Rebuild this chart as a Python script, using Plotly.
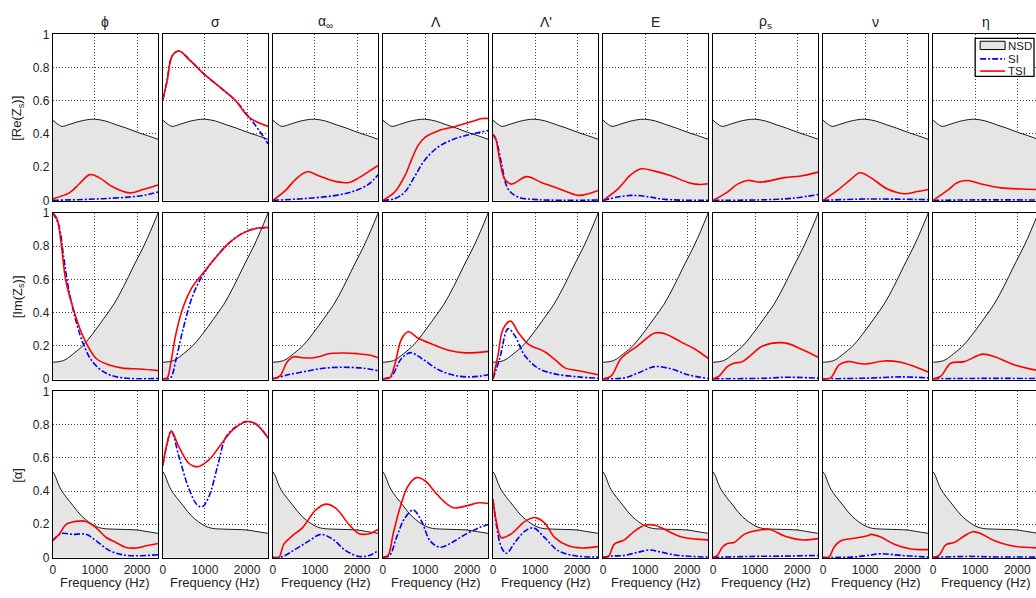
import plotly.graph_objects as go

# ---------------- data (frequency in Hz, normalised value) ----------------
params = ["ϕ", "σ", "α<sub>∞</sub>", "Λ", "Λ'", "E", "ρ<sub>s</sub>", "ν", "η"]
row_labels = ["[Re(Z<sub>s</sub>)]", "[Im(Z<sub>s</sub>)]", "[α]"]
legend_names = ["NSD", "SI", "TSI"]
x_ticks = [0, 1000, 2000]
y_ticks = [0, 0.2, 0.4, 0.6, 0.8, 1]
y_tick_text = ["0", "0.2", "0.4", "0.6", "0.8", "1"]

# NSD envelopes (identical across columns of a row)
re_nsd = [(0, 0.483), (100, 0.462), (215, 0.446), (400, 0.458), (600, 0.474), (800, 0.485), (990, 0.489),
          (1250, 0.478), (1500, 0.456), (1750, 0.435), (2000, 0.411), (2250, 0.39), (2500, 0.368)]
im_nsd = [(0, 0.1), (250, 0.11), (490, 0.152), (730, 0.205), (1000, 0.29), (1200, 0.36), (1450, 0.45),
          (1680, 0.556), (1920, 0.68), (2160, 0.8), (2320, 0.89), (2500, 1.0)]
al_nsd = [(0, 0.515), (40, 0.5), (190, 0.41), (470, 0.315), (700, 0.245), (1000, 0.19), (1180, 0.175),
          (1500, 0.17), (2000, 0.165), (2250, 0.155), (2500, 0.145)]

# Row 1 : Re(Zs)
re_phi_tsi = [(0, 0.01), (390, 0.045), (630, 0.1), (880, 0.155), (1100, 0.137), (1430, 0.08), (1820, 0.045), (2140, 0.065), (2500, 0.092)]
re_phi_si = [(0, 0), (600, 0.004), (1190, 0.01), (1820, 0.02), (2200, 0.032), (2500, 0.05)]
re_sig_tsi = [(0, 0.607), (100, 0.72), (220, 0.87), (380, 0.9), (620, 0.85), (940, 0.77), (1340, 0.685), (1730, 0.6), (2050, 0.5), (2500, 0.445)]
re_sig_si = [(0, 0.607), (100, 0.72), (220, 0.87), (380, 0.9), (620, 0.85), (940, 0.77), (1340, 0.685), (1730, 0.6), (2050, 0.5), (2290, 0.42), (2500, 0.34)]
re_alp_tsi = [(0, 0), (300, 0.06), (540, 0.127), (820, 0.172), (1100, 0.147), (1500, 0.113), (1815, 0.108), (2050, 0.137), (2290, 0.176), (2500, 0.21)]
re_alp_si = [(0, 0), (700, 0.01), (1500, 0.03), (1975, 0.06), (2290, 0.1), (2500, 0.155)]
re_lam_tsi = [(0, 0), (280, 0.05), (520, 0.147), (680, 0.245), (840, 0.333), (1000, 0.38), (1320, 0.42), (1720, 0.445), (2120, 0.475), (2360, 0.493), (2500, 0.493)]
re_lam_si = [(0, 0), (280, 0.01), (520, 0.05), (760, 0.147), (1000, 0.245), (1320, 0.323), (1720, 0.372), (2120, 0.4), (2500, 0.42)]
re_lamp_tsi = [(0, 0.397), (55, 0.38), (160, 0.245), (280, 0.127), (440, 0.098), (800, 0.143), (1150, 0.108), (1550, 0.072), (2030, 0.03), (2270, 0.04), (2500, 0.059)]
re_lamp_si = [(0, 0.397), (80, 0.36), (200, 0.225), (360, 0.068), (600, 0.02), (1080, 0.004), (2500, 0.002)]
re_e_tsi = [(0, 0), (350, 0.068), (670, 0.156), (910, 0.19), (1230, 0.176), (1630, 0.147), (2020, 0.108), (2260, 0.096), (2500, 0.1)]
re_e_si = [(0, 0), (350, 0.02), (670, 0.03), (990, 0.025), (1470, 0.006), (2500, 0.0)]
re_rho_tsi = [(0, 0), (340, 0.05), (580, 0.098), (820, 0.12), (1140, 0.11), (1700, 0.137), (2090, 0.147), (2500, 0.17)]
re_rho_si = [(0, 0), (1300, 0.004), (1930, 0.014), (2500, 0.035)]
re_nu_tsi = [(0, 0), (340, 0.06), (660, 0.127), (880, 0.166), (1130, 0.137), (1530, 0.068), (1930, 0.04), (2240, 0.053), (2500, 0.065)]
re_nu_si = [(0, 0), (1050, 0.008), (2500, 0.004)]
re_eta_tsi = [(0, 0), (340, 0.06), (580, 0.108), (820, 0.12), (1140, 0.098), (1620, 0.075), (2100, 0.068), (2500, 0.065)]
re_eta_si = [(0, 0), (1200, 0.003), (2500, 0.002)]

# Row 2 : Im(Zs)
im_phi_tsi = [(0, 1.0), (100, 0.965), (190, 0.83), (310, 0.59), (470, 0.436), (710, 0.26), (1030, 0.123), (1340, 0.084), (1660, 0.065), (2060, 0.06), (2500, 0.05)]
im_phi_si = [(0, 1.0), (140, 0.926), (260, 0.73), (380, 0.534), (540, 0.358), (710, 0.22), (940, 0.104), (1260, 0.035), (1660, 0.006), (2500, 0.002)]
im_sig_tsi = [(0, 0), (100, 0.006), (180, 0.084), (300, 0.26), (460, 0.417), (700, 0.554), (940, 0.632), (1250, 0.73), (1570, 0.818), (1890, 0.877), (2210, 0.906), (2500, 0.912)]
im_sig_si = [(0, 0), (180, 0.006), (300, 0.104), (460, 0.28), (700, 0.495), (940, 0.622), (1250, 0.73), (1570, 0.818), (1890, 0.877), (2210, 0.906), (2500, 0.912)]
im_alp_tsi = [(0, 0), (175, 0.02), (333, 0.1), (490, 0.133), (730, 0.127), (970, 0.127), (1130, 0.136), (1325, 0.152), (1680, 0.156), (2000, 0.152), (2320, 0.142), (2500, 0.127)]
im_alp_si = [(0, 0), (333, 0.023), (730, 0.043), (1200, 0.064), (1680, 0.07), (2160, 0.064), (2500, 0.049)]
im_lam_tsi = [(0, 0), (160, 0.006), (280, 0.084), (440, 0.24), (600, 0.284), (840, 0.245), (1160, 0.21), (1560, 0.172), (1960, 0.157), (2500, 0.166)]
im_lam_si = [(0, 0), (200, 0.016), (440, 0.123), (660, 0.158), (920, 0.123), (1320, 0.055), (1720, 0.02), (2120, 0.012), (2500, 0.025)]
im_lamp_tsi = [(0, 0), (120, 0.143), (240, 0.3), (420, 0.348), (600, 0.28), (840, 0.21), (1240, 0.162), (1480, 0.114), (1720, 0.065), (2040, 0.049), (2500, 0.025)]
im_lamp_si = [(0, 0), (160, 0.123), (360, 0.303), (520, 0.26), (750, 0.143), (1070, 0.065), (1470, 0.03), (2030, 0.012), (2500, 0.004)]
im_e_tsi = [(0, 0), (190, 0.016), (430, 0.123), (830, 0.2), (1230, 0.276), (1470, 0.272), (1870, 0.22), (2180, 0.18), (2500, 0.123)]
im_e_si = [(0, 0), (510, 0.006), (830, 0.035), (1230, 0.074), (1620, 0.06), (2020, 0.025), (2500, 0.002)]
im_rho_tsi = [(0, 0), (140, 0.016), (340, 0.074), (500, 0.094), (700, 0.104), (900, 0.143), (1180, 0.198), (1700, 0.217), (2090, 0.18), (2500, 0.13)]
im_rho_si = [(0, 0), (1300, 0.004), (1700, 0.01), (2500, 0.004)]
im_nu_tsi = [(0, 0), (180, 0.006), (380, 0.084), (580, 0.104), (980, 0.09), (1450, 0.108), (1850, 0.1), (2170, 0.074), (2500, 0.041)]
im_nu_si = [(0, 0), (1050, 0.004), (1850, 0.012), (2500, 0.006)]
im_eta_tsi = [(0, 0), (180, 0.016), (420, 0.094), (740, 0.104), (1180, 0.149), (1460, 0.133), (1940, 0.084), (2500, 0.05)]
im_eta_si = [(0, 0), (1200, 0.003), (2500, 0.002)]

# Row 3 : absorption coefficient
al_phi_tsi = [(0, 0.106), (150, 0.139), (310, 0.198), (550, 0.217), (790, 0.217), (1030, 0.178), (1270, 0.12), (1500, 0.09), (1740, 0.06), (1980, 0.057), (2220, 0.07), (2500, 0.084)]
al_phi_si = [(0, 0.1), (190, 0.143), (470, 0.139), (790, 0.139), (1030, 0.1), (1350, 0.041), (1660, 0.016), (1980, 0.01), (2500, 0.016)]
al_sig_tsi = [(0, 0.554), (100, 0.687), (200, 0.761), (380, 0.667), (620, 0.566), (820, 0.546), (1100, 0.589), (1340, 0.667), (1650, 0.765), (1970, 0.818), (2210, 0.804), (2500, 0.72)]
al_sig_si = [(0, 0.554), (100, 0.687), (200, 0.761), (380, 0.61), (620, 0.413), (820, 0.315), (940, 0.305), (1100, 0.37), (1300, 0.55), (1500, 0.726), (1730, 0.786), (1970, 0.818), (2210, 0.804), (2500, 0.72)]
al_alp_tsi = [(0, 0), (140, 0), (260, 0.08), (460, 0.13), (700, 0.178), (1020, 0.286), (1260, 0.321), (1500, 0.295), (1810, 0.198), (2050, 0.143), (2290, 0.143), (2500, 0.168)]
al_alp_si = [(0, 0), (200, 0.002), (540, 0.05), (860, 0.1), (1140, 0.139), (1420, 0.11), (1730, 0.041), (2050, 0.006), (2290, 0.012), (2500, 0.041)]
al_lam_tsi = [(0, 0), (120, 0.012), (240, 0.139), (400, 0.295), (600, 0.432), (800, 0.481), (1000, 0.462), (1240, 0.393), (1480, 0.33), (1680, 0.299), (1960, 0.309), (2280, 0.329), (2500, 0.325)]
al_lam_si = [(0, 0), (160, 0.012), (320, 0.119), (520, 0.237), (720, 0.286), (920, 0.217), (1120, 0.1), (1360, 0.061), (1640, 0.09), (1960, 0.139), (2280, 0.178), (2500, 0.198)]
al_lamp_tsi = [(0, 0.35), (80, 0.217), (200, 0.119), (440, 0.143), (760, 0.217), (1000, 0.24), (1230, 0.207), (1470, 0.119), (1790, 0.07), (2100, 0.057), (2500, 0.065)]
al_lamp_si = [(0, 0.35), (80, 0.198), (200, 0.061), (320, 0.025), (520, 0.09), (760, 0.159), (960, 0.178), (1230, 0.119), (1550, 0.041), (1950, 0.01), (2500, 0.002)]
al_e_tsi = [(0, 0), (130, 0.006), (270, 0.08), (510, 0.106), (750, 0.159), (990, 0.194), (1230, 0.194), (1470, 0.168), (1870, 0.123), (2500, 0.106)]
al_e_si = [(0, 0), (200, 0.008), (510, 0.012), (830, 0.031), (1110, 0.045), (1390, 0.031), (1790, 0.012), (2500, 0.002)]
al_rho_tsi = [(0, 0), (100, 0.012), (220, 0.061), (340, 0.084), (500, 0.09), (740, 0.139), (980, 0.159), (1340, 0.168), (1700, 0.129), (2090, 0.106), (2500, 0.113)]
al_rho_si = [(0, 0), (900, 0.006), (1700, 0.008), (2500, 0.012)]
al_nu_tsi = [(0, 0), (140, 0.002), (260, 0.061), (420, 0.1), (740, 0.115), (1060, 0.131), (1140, 0.139), (1370, 0.123), (1690, 0.08), (2090, 0.051), (2500, 0.047)]
al_nu_si = [(0, 0), (700, 0.002), (1060, 0.012), (1370, 0.022), (1850, 0.012), (2500, 0.002)]
al_eta_tsi = [(0, 0), (140, 0.012), (300, 0.076), (500, 0.09), (740, 0.129), (940, 0.155), (1140, 0.143), (1460, 0.1), (1860, 0.07), (2500, 0.057)]
al_eta_si = [(0, 0), (800, 0.006), (1500, 0.003), (2500, 0.002)]

rows = [
    (re_nsd, [(re_phi_si, re_phi_tsi), (re_sig_si, re_sig_tsi), (re_alp_si, re_alp_tsi), (re_lam_si, re_lam_tsi),
              (re_lamp_si, re_lamp_tsi), (re_e_si, re_e_tsi), (re_rho_si, re_rho_tsi), (re_nu_si, re_nu_tsi), (re_eta_si, re_eta_tsi)]),
    (im_nsd, [(im_phi_si, im_phi_tsi), (im_sig_si, im_sig_tsi), (im_alp_si, im_alp_tsi), (im_lam_si, im_lam_tsi),
              (im_lamp_si, im_lamp_tsi), (im_e_si, im_e_tsi), (im_rho_si, im_rho_tsi), (im_nu_si, im_nu_tsi), (im_eta_si, im_eta_tsi)]),
    (al_nsd, [(al_phi_si, al_phi_tsi), (al_sig_si, al_sig_tsi), (al_alp_si, al_alp_tsi), (al_lam_si, al_lam_tsi),
              (al_lamp_si, al_lamp_tsi), (al_e_si, al_e_tsi), (al_rho_si, al_rho_tsi), (al_nu_si, al_nu_tsi), (al_eta_si, al_eta_tsi)]),
]

# ---------------- layout geometry (pixels) ----------------
W, H = 1036, 598
col_left = [50 + i * 110.35 for i in range(9)]
col_w = 105.5
row_top = [28, 210.5, 393]
row_h = 170.5
FONT = "Liberation Sans, Arial, Helvetica, sans-serif"
TXT = "#222"
SI_DASH = "6px,2px,2px,2px"

fig = go.Figure()
layout = dict(width=W, height=H, margin=dict(l=0, r=0, t=0, b=0),
              plot_bgcolor="white", paper_bgcolor="white",
              font=dict(family=FONT, size=12, color=TXT),
              showlegend=False)


def xy(pairs):
    return [p[0] for p in pairs], [p[1] for p in pairs]


def px(x):
    return x / W


def py(y):
    return 1 - y / H


annotations = []
shapes = []
for r, (nsd, panels) in enumerate(rows):
    for c, (si, tsi) in enumerate(panels):
        k = r * 9 + c + 1
        xa = "x" if k == 1 else f"x{k}"
        ya = "y" if k == 1 else f"y{k}"
        fx, fy = xy(nsd)
        fig.add_trace(go.Scatter(x=fx, y=fy, xaxis=xa, yaxis=ya, mode="lines", name="NSD",
                                 line=dict(color="black", width=0.9, shape="spline"),
                                 fill="tozeroy", fillcolor="#e5e5e5"))
        sx, sy = xy(si)
        fig.add_trace(go.Scatter(x=sx, y=sy, xaxis=xa, yaxis=ya, mode="lines", name="SI",
                                 line=dict(color="#0000ff", width=1.6, dash=SI_DASH, shape="spline")))
        tx, ty = xy(tsi)
        fig.add_trace(go.Scatter(x=tx, y=ty, xaxis=xa, yaxis=ya, mode="lines", name="TSI",
                                 line=dict(color="#ff0000", width=1.6, shape="spline")))

        right = min(col_left[c] + col_w, W)
        xmax = 2500 * (right - col_left[c]) / col_w
        xkey = "xaxis" if k == 1 else f"xaxis{k}"
        ykey = "yaxis" if k == 1 else f"yaxis{k}"
        common = dict(showgrid=True, gridcolor="#444", griddash="1px,2px", gridwidth=1,
                      zeroline=False, showline=True, linecolor="black", linewidth=1.2,
                      ticks="", tickfont=dict(size=12, color=TXT))
        layout[xkey] = dict(domain=[px(col_left[c]), px(right)], anchor=ya, range=[0, xmax],
                            tickvals=x_ticks, showticklabels=(r == 2), mirror=True, **common)
        layout[ykey] = dict(domain=[py(row_top[r] + row_h), py(row_top[r])], anchor=xa,
                            range=[-0.005, 1.0], tickvals=y_ticks, ticktext=y_tick_text,
                            showticklabels=(c == 0), mirror=(c < 8), **common)

# column titles
for c, p in enumerate(params):
    annotations.append(dict(x=px(col_left[c] + col_w / 2), y=py(15), xref="paper", yref="paper",
                            text=p, showarrow=False, font=dict(size=14, color=TXT),
                            xanchor="center", yanchor="middle"))
# row labels
for r, lab in enumerate(row_labels):
    annotations.append(dict(x=px(15), y=py(row_top[r] + row_h / 2), xref="paper", yref="paper",
                            text=lab, showarrow=False, textangle=-90, font=dict(size=13, color=TXT),
                            xanchor="center", yanchor="middle"))
# x axis titles
for c in range(9):
    annotations.append(dict(x=px(col_left[c] + col_w / 2), y=py(588), xref="paper", yref="paper",
                            text="Frequency (Hz)", showarrow=False, font=dict(size=13, color=TXT),
                            xanchor="center", yanchor="middle"))

# legend box (drawn in the last panel of the first row)
shapes.append(dict(type="rect", xref="paper", yref="paper", x0=px(975), x1=px(1034), y0=py(71), y1=py(32),
                   line=dict(color="black", width=1.3), fillcolor="white", layer="above"))
shapes.append(dict(type="rect", xref="paper", yref="paper", x0=px(980), x1=px(1005), y0=py(43.5), y1=py(35),
                   line=dict(color="black", width=1), fillcolor="#e5e5e5", layer="above"))
shapes.append(dict(type="line", xref="paper", yref="paper", x0=px(980), x1=px(1005), y0=py(53), y1=py(53),
                   line=dict(color="#0000ff", width=1.6, dash=SI_DASH), layer="above"))
shapes.append(dict(type="line", xref="paper", yref="paper", x0=px(980), x1=px(1005), y0=py(65.5), y1=py(65.5),
                   line=dict(color="#ff0000", width=1.6), layer="above"))
for name, yy in zip(legend_names, [39.5, 53, 65.5]):
    annotations.append(dict(x=px(1006), y=py(yy), xref="paper", yref="paper", text=name,
                            showarrow=False, font=dict(size=11.5, color=TXT),
                            xanchor="left", yanchor="middle"))

layout["annotations"] = annotations
layout["shapes"] = shapes
fig.update_layout(**layout)
fig.write_html("out.html")
